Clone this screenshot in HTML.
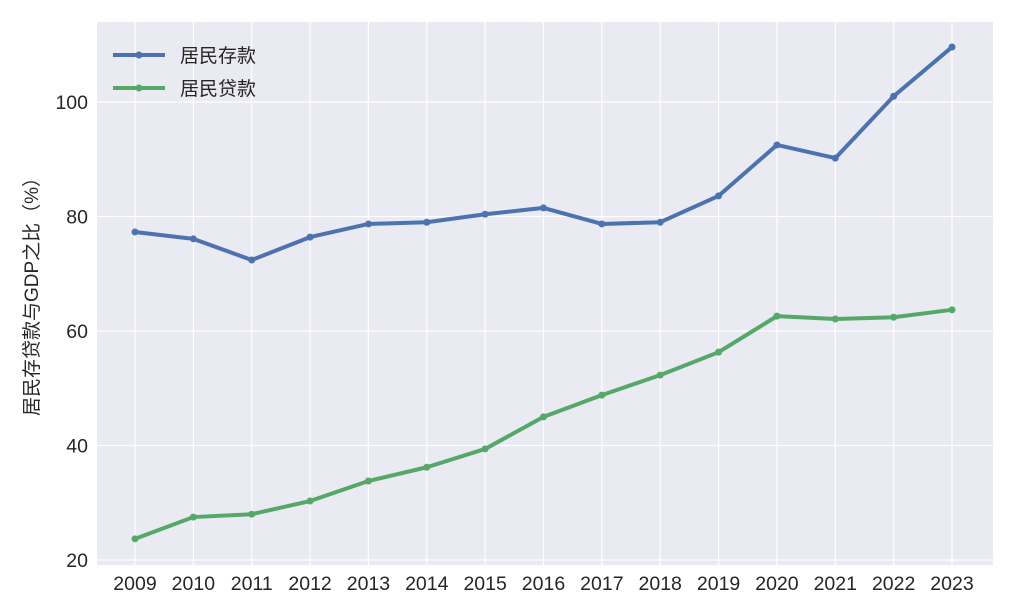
<!DOCTYPE html>
<html><head><meta charset="utf-8"><style>
body{margin:0;background:#fff;font-family:"Liberation Sans","Noto Sans CJK SC",sans-serif;}
svg text{font-family:"Liberation Sans","Noto Sans CJK SC",sans-serif;fill:#262626;}
</style></head><body>
<svg id="chart" width="1027" height="611">
<rect x="97" y="22" width="896" height="543" fill="#eaeaf2"/>
<g id="grid"></g><g id="series"></g><g id="axes"></g>
<text transform="translate(38,292) rotate(-90)" text-anchor="middle" font-size="19">居民存贷款与GDP之比（%）</text>
<g>
<g><line x1="113" y1="55" x2="165" y2="55" stroke="#4c72b0" stroke-width="4"/><circle cx="139" cy="55" r="3.5" fill="#4c72b0"/><text x="180" y="62" font-size="19">居民存款</text></g>
<g><line x1="113" y1="88" x2="165" y2="88" stroke="#55a868" stroke-width="4"/><circle cx="139" cy="88" r="3.5" fill="#55a868"/><text x="180" y="95" font-size="19">居民贷款</text></g>
</g>
</svg>
<script>
const years=[2009,2010,2011,2012,2013,2014,2015,2016,2017,2018,2019,2020,2021,2022,2023];
const deposits=[77.3,76.1,72.4,76.4,78.7,79.0,80.4,81.5,78.7,79.0,83.6,92.5,90.2,101.0,109.6];
const loans=[23.7,27.5,28.0,30.3,33.8,36.2,39.4,45.0,48.8,52.3,56.3,62.6,62.1,62.4,63.7];
const yTicks=[20,40,60,80,100];
const NS="http://www.w3.org/2000/svg";
function xs(yr){return 135+(yr-2009)*(952-135)/14;}
function ys(v){return 560-(v-20)*5.725;}
function mk(tag,attrs,parent){const e=document.createElementNS(NS,tag);for(const k in attrs)e.setAttribute(k,attrs[k]);parent.appendChild(e);return e;}
const grid=document.getElementById('grid'),axes=document.getElementById('axes'),ser=document.getElementById('series');
years.forEach(yr=>{
 const l=mk('line',{x1:xs(yr),x2:xs(yr),y1:22,y2:565,stroke:'#fff','stroke-width':1.2},grid);
 
 
 const t=mk('text',{x:xs(yr),y:590,'text-anchor':'middle','font-size':19.5},axes);t.textContent=yr;
 
 
});
yTicks.forEach(v=>{
 const l=mk('line',{x1:97,x2:993,y1:ys(v),y2:ys(v),stroke:'#fff','stroke-width':1.2},grid);
 
 
 const t=mk('text',{x:88,y:ys(v)+7,'text-anchor':'end','font-size':19.5},axes);t.textContent=v;
 
 
});
function draw(vals,color,name){
 const p=mk('polyline',{points:vals.map((v,i)=>xs(years[i])+','+ys(v)).join(' '),fill:'none',stroke:color,'stroke-width':4,'stroke-linejoin':'round'},ser);
 
 
 vals.forEach((v,i)=>{const c=mk('circle',{cx:xs(years[i]),cy:ys(v),r:3.5,fill:color},ser);
 
 });
}
draw(deposits,'#4c72b0','deposits');
draw(loans,'#55a868','loans');
</script>
</body></html>
